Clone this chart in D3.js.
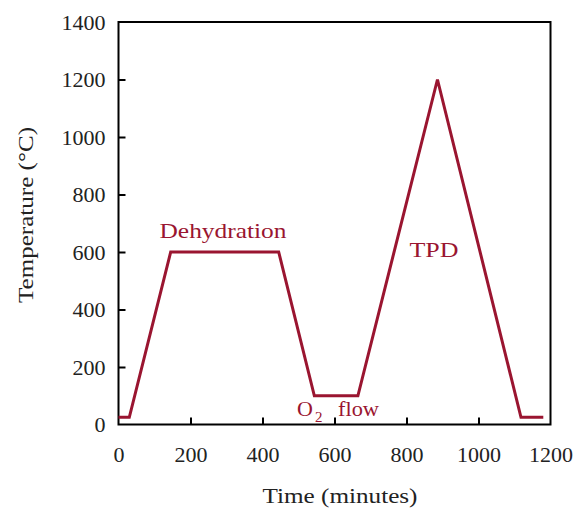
<!DOCTYPE html>
<html><head><meta charset="utf-8">
<script src="https://cdn.jsdelivr.net/npm/d3@7"></script>
<style>
body{margin:0;background:#fff;}
text{font-family:"Liberation Serif","Times New Roman",serif;}
</style></head>
<body><svg id="c" width="579" height="513"></svg>
<script>
const timeMin = [0, 30, 145, 445, 544, 665, 886, 1118, 1180];
const tempC   = [25, 25, 600, 600, 100, 100, 1200, 25, 25];
const xTicks = [0, 200, 400, 600, 800, 1000, 1200];
const yTicks = [0, 200, 400, 600, 800, 1000, 1200, 1400];
const annotations = ["Dehydration", "TPD", "O", "2", "flow"];
const xLabel = "Time (minutes)";
const yLabel = "Temperature (°C)";

const color = "#9a1530";
const svg = d3.select("#c");
const L = 118.5, R = 550.5, T = 22, B = 424.5;
const x = d3.scaleLinear().domain([0, 1200]).range([L, R]);
const y = d3.scaleLinear().domain([0, 1400]).range([B, T]);

svg.append("rect").attr("x", L).attr("y", T).attr("width", R - L).attr("height", B - T)
  .attr("fill", "none").attr("stroke", "#000").attr("stroke-width", 2);

const fs = "22px";
const fmt = d3.format("d");
const xAxis = svg.append("g").attr("transform", `translate(0,${B})`)
  .call(d3.axisBottom(x).tickValues(xTicks).tickFormat(fmt).tickSizeInner(-7).tickSizeOuter(0).tickPadding(22));
const yAxis = svg.append("g").attr("transform", `translate(${L},0)`)
  .call(d3.axisLeft(y).tickValues(yTicks).tickFormat(fmt).tickSizeInner(-7).tickSizeOuter(0).tickPadding(13));
[xAxis, yAxis].forEach(a => {
  a.select(".domain").remove();
  a.selectAll(".tick line").attr("stroke", "#000").attr("stroke-width", 2);
  a.selectAll(".tick text").attr("fill", "#222").style("font-size", fs)
   .style("font-family", "'Liberation Serif', serif");
});
xAxis.selectAll(".tick").filter(d => d === 0 || d === 1200).select("line").remove();
yAxis.selectAll(".tick").filter(d => d === 0 || d === 1400).select("line").remove();

const line = d3.line().x((d, i) => x(timeMin[i])).y(d => y(d));
svg.append("path").datum(tempC).attr("d", line).attr("fill", "none")
  .attr("stroke", color).attr("stroke-width", 3).attr("stroke-linejoin", "miter");

function fit(sel, w) {
  return sel.attr("textLength", w).attr("lengthAdjust", "spacingAndGlyphs");
}

fit(svg.append("text").attr("x", 340).attr("y", 503).attr("text-anchor", "middle")
  .style("font-size", fs).attr("fill", "#222").text(xLabel), 155);
fit(svg.append("text").attr("transform", `translate(33,215) rotate(-90)`)
  .attr("text-anchor", "middle").style("font-size", "21px").attr("fill", "#222").text(yLabel), 176);

fit(svg.append("text").attr("x", 223).attr("y", 238).attr("text-anchor", "middle")
  .style("font-size", fs).attr("fill", color).text(annotations[0]), 127);
fit(svg.append("text").attr("x", 434).attr("y", 257).attr("text-anchor", "middle")
  .style("font-size", fs).attr("fill", color).text(annotations[1]), 49);
svg.append("text").attr("x", 297).attr("y", 416).style("font-size", fs).attr("fill", color).text(annotations[2]);
svg.append("text").attr("x", 315).attr("y", 422).style("font-size", "15px").attr("fill", color).text(annotations[3]);
fit(svg.append("text").attr("x", 338).attr("y", 416).style("font-size", fs).attr("fill", color).text(annotations[4]), 41);
</script></body></html>
